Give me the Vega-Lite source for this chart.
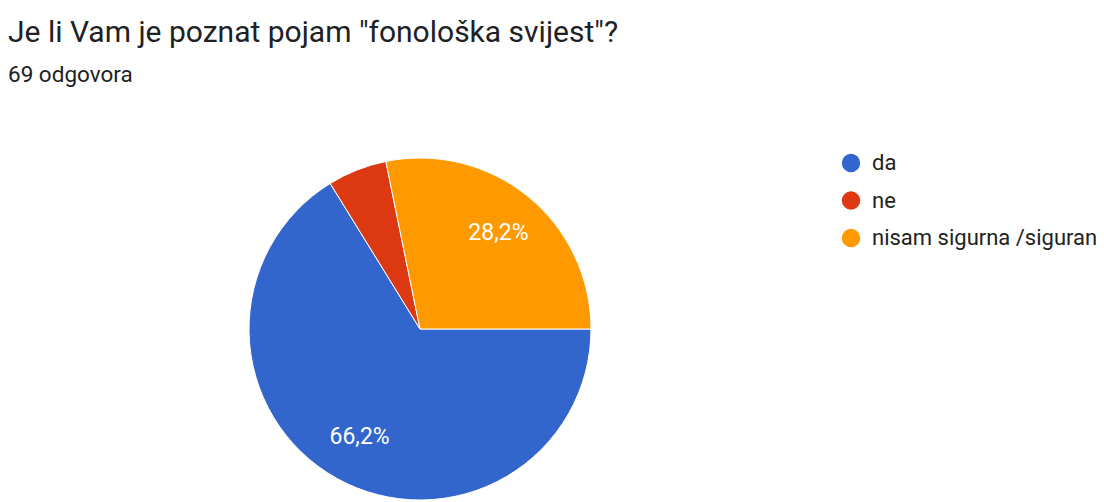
{
  "$schema": "https://vega.github.io/schema/vega-lite/v6.json",
  "autosize": "none",
  "width": 840,
  "height": 458,
  "padding": {"left": 0, "top": 100, "right": 264, "bottom": 0},
  "background": "white",
  "config": {
    "view": {"stroke": null},
    "font": "Roboto"
  },
  "title": {
    "text": "Je li Vam je poznat pojam \"fonološka svijest\"?",
    "subtitle": "69 odgovora",
    "anchor": "start",
    "frame": "group",
    "dx": 8,
    "offset": 14,
    "font": "Roboto",
    "fontSize": 30,
    "fontWeight": "normal",
    "color": "#202124",
    "subtitleFont": "Roboto",
    "subtitleFontSize": 22.5,
    "subtitleColor": "#202124",
    "subtitlePadding": 16
  },
  "data": {
    "values": [
      {"answer": "da", "pct": 66.2, "label": "66,2%", "order": 1},
      {"answer": "ne", "pct": 5.6, "label": "", "order": 2},
      {"answer": "nisam sigurna /siguran", "pct": 28.2, "label": "28,2%", "order": 3}
    ]
  },
  "encoding": {
    "theta": {"field": "pct", "type": "quantitative", "stack": true, "scale": {"range": [1.5707963, 7.8539816]}},
    "order": {"field": "order", "type": "quantitative"}
  },
  "layer": [
    {
      "mark": {"type": "arc", "outerRadius": 171, "stroke": "white", "strokeWidth": 1},
      "encoding": {
        "color": {
          "field": "answer",
          "type": "nominal",
          "scale": {"domain": ["da", "ne", "nisam sigurna /siguran"], "range": ["#3366cc", "#dc3912", "#ff9900"]},
          "legend": {
            "title": null,
            "orient": "none",
            "legendX": 840,
            "legendY": 52,
            "padding": 0,
            "symbolType": "circle",
            "symbolSize": 340,
            "symbolStrokeWidth": 0,
            "symbolOpacity": 1,
            "labelFont": "Roboto",
            "labelFontSize": 22,
            "labelColor": "#222222",
            "labelOffset": 10,
            "labelLimit": 400,
            "rowPadding": 15.5
          }
        }
      }
    },
    {
      "mark": {"type": "text", "radius": 124, "fill": "white", "font": "Roboto", "fontSize": 23},
      "encoding": {
        "text": {"field": "label", "type": "nominal"}
      }
    }
  ]
}
